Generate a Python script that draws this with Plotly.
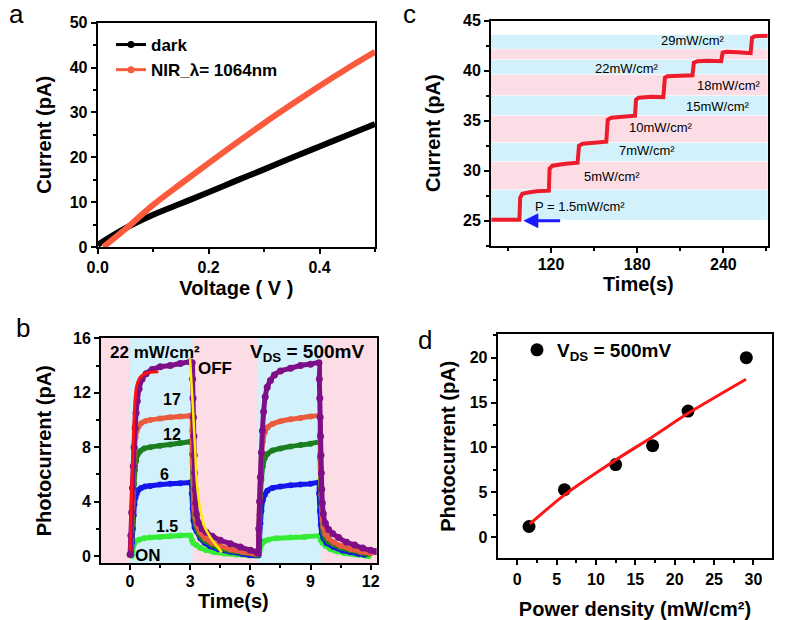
import plotly.graph_objects as go

W, H = 787, 620
FONT = "Arial, Liberation Sans, sans-serif"

# ---------------- Panel a : I-V ----------------
volt_dark = [0.0, 0.05, 0.1, 0.15, 0.2, 0.25, 0.3, 0.35, 0.4, 0.45, 0.5]
cur_dark = [0.5, 4.2, 7.2, 9.7, 12.2, 14.8, 17.3, 19.9, 22.4, 24.9, 27.4]
volt_nir = [0.01, 0.05, 0.1, 0.15, 0.2, 0.25, 0.3, 0.35, 0.4, 0.45, 0.5]
cur_nir = [0.0, 4.0, 9.4, 14.1, 18.7, 23.2, 27.6, 31.8, 35.9, 39.8, 43.5]

# ---------------- Panel b : on/off photocurrent ----------------
t_22 = [0.0, 0.04, 0.08, 0.12, 0.16, 0.2, 0.25, 0.3, 0.36, 0.45, 0.6, 0.8, 1.1, 1.5, 2.0, 2.5, 3.0, 3.1,
        3.12, 3.14, 3.16, 3.18, 3.2, 3.22, 3.24, 3.27, 3.32, 3.42, 3.6, 3.8, 4.1, 4.5, 5.0, 5.5, 6.0, 6.3,
        6.38, 6.42, 6.46, 6.5, 6.55, 6.6, 6.66, 6.74, 6.84, 7.0, 7.2, 7.5, 8.0, 8.5, 9.0, 9.42,
        9.44, 9.46, 9.48, 9.5, 9.52, 9.54, 9.56, 9.59, 9.64, 9.74, 9.9, 10.1, 10.4, 10.8, 11.2, 11.6, 12.0, 12.25]
i_22 = [0.1, 1.5, 3.2, 5.0, 6.6, 8.0, 9.4, 10.5, 11.4, 12.3, 13.0, 13.4, 13.7, 13.9, 14.0, 14.15, 14.25, 14.2,
        13.0, 11.6, 10.2, 8.8, 7.4, 6.1, 4.9, 3.9, 3.1, 2.45, 2.0, 1.75, 1.45, 1.15, 0.9, 0.65, 0.42, 0.3,
        0.2, 2.0, 4.0, 5.8, 7.6, 9.2, 10.6, 11.7, 12.4, 12.9, 13.3, 13.6, 13.8, 14.0, 14.1, 14.2,
        13.0, 11.6, 10.2, 8.8, 7.4, 6.1, 4.9, 3.9, 3.1, 2.4, 1.95, 1.65, 1.35, 1.0, 0.8, 0.58, 0.42, 0.32]

t_17 = [0.02, 0.06, 0.1, 0.14, 0.18, 0.22, 0.27, 0.33, 0.42, 0.55, 0.75, 1.0, 1.5, 2.0, 2.5, 3.0, 3.08,
        3.1, 3.13, 3.16, 3.2, 3.26, 3.35, 3.5, 3.75, 4.1, 4.5, 5.0, 5.6, 6.3,
        6.38, 6.42, 6.46, 6.5, 6.55, 6.62, 6.72, 6.85, 7.1, 7.5, 8.0, 8.5, 9.0, 9.45,
        9.48, 9.51, 9.54, 9.58, 9.64, 9.75, 9.9, 10.15, 10.5, 11.0, 11.5, 12.0]
i_17 = [0.1, 1.5, 3.2, 5.0, 6.7, 7.9, 8.7, 9.2, 9.5, 9.75, 9.9, 10.0, 10.1, 10.2, 10.25, 10.3, 10.3,
        9.2, 6.8, 4.8, 3.5, 2.8, 2.3, 1.75, 1.3, 0.95, 0.72, 0.48, 0.3, 0.15,
        0.2, 2.0, 4.0, 5.8, 7.2, 8.4, 9.1, 9.45, 9.7, 9.9, 10.05, 10.15, 10.25, 10.3,
        9.0, 6.5, 4.5, 3.0, 2.1, 1.6, 1.3, 1.0, 0.75, 0.52, 0.32, 0.2]

t_12 = [0.04, 0.08, 0.12, 0.16, 0.2, 0.24, 0.3, 0.38, 0.5, 0.7, 1.0, 1.5, 2.0, 2.5, 3.0, 3.08,
        3.1, 3.13, 3.16, 3.2, 3.27, 3.4, 3.6, 3.75, 4.1, 4.4, 5.0, 5.6, 6.3,
        6.38, 6.42, 6.46, 6.5, 6.55, 6.62, 6.72, 6.85, 7.1, 7.5, 8.0, 8.5, 9.0, 9.45,
        9.48, 9.51, 9.54, 9.58, 9.64, 9.75, 9.9, 10.15, 10.5, 11.0, 11.5, 11.85]
i_12 = [0.1, 1.2, 2.6, 4.0, 5.3, 6.3, 7.0, 7.45, 7.7, 7.9, 8.0, 8.1, 8.2, 8.3, 8.4, 8.4,
        7.5, 5.5, 4.0, 3.0, 2.3, 1.7, 1.3, 1.1, 0.8, 0.6, 0.4, 0.25, 0.1,
        0.1, 1.5, 3.0, 4.4, 5.6, 6.6, 7.2, 7.5, 7.75, 7.9, 8.05, 8.15, 8.25, 8.35,
        7.2, 5.2, 3.7, 2.6, 1.7, 1.3, 1.05, 0.85, 0.6, 0.42, 0.25, 0.14]

t_6 = [0.06, 0.1, 0.14, 0.18, 0.22, 0.27, 0.33, 0.42, 0.55, 0.75, 1.0, 1.5, 2.0, 2.5, 3.0, 3.05,
       3.08, 3.12, 3.16, 3.22, 3.32, 3.5, 3.73, 4.0, 4.4, 5.0, 5.6, 6.0,
       6.4, 6.45, 6.5, 6.55, 6.62, 6.72, 6.85, 7.1, 7.5, 8.0, 8.5, 9.0, 9.4,
       9.43, 9.47, 9.51, 9.56, 9.65, 9.8, 10.15, 10.6, 11.0, 11.4, 11.7]
i_6 = [0.1, 1.0, 2.0, 3.0, 3.8, 4.3, 4.6, 4.85, 5.0, 5.1, 5.15, 5.25, 5.3, 5.35, 5.4, 5.4,
       4.6, 3.5, 2.6, 2.1, 1.8, 1.3, 0.95, 0.72, 0.5, 0.3, 0.15, 0.05,
       0.05, 1.2, 2.4, 3.3, 4.1, 4.5, 4.8, 5.0, 5.1, 5.2, 5.25, 5.3, 5.4,
       4.6, 3.3, 2.3, 1.7, 1.3, 0.95, 0.65, 0.4, 0.28, 0.15, 0.08]

t_15 = [0.08, 0.12, 0.16, 0.22, 0.3, 0.45, 0.7, 1.0, 1.5, 2.0, 2.5, 3.0,
        3.08, 3.15, 3.3, 3.5, 3.8, 4.2, 4.7, 5.3, 5.9, 6.35,
        6.42, 6.46, 6.52, 6.6, 6.72, 6.9, 7.3, 8.0, 8.7, 9.45,
        9.52, 9.6, 9.75, 10.0, 10.3, 10.7, 11.2, 11.9]
i_15 = [0.0, 0.35, 0.7, 0.95, 1.1, 1.2, 1.3, 1.35, 1.4, 1.45, 1.5, 1.5,
        1.2, 0.95, 0.8, 0.6, 0.42, 0.28, 0.18, 0.1, 0.05, 0.02,
        0.05, 0.4, 0.75, 0.95, 1.1, 1.2, 1.3, 1.35, 1.4, 1.45,
        1.15, 0.95, 0.75, 0.5, 0.35, 0.2, 0.1, -0.02]

t_fit_on = [0.0, 0.06, 0.12, 0.18, 0.25, 0.33, 0.42, 0.55, 0.75, 1.0, 1.41]
i_fit_on = [0.4, 3.9, 6.8, 9.5, 11.5, 12.5, 12.9, 13.2, 13.4, 13.5, 13.55]
t_fit_off = [2.99, 3.1, 3.19, 3.26, 3.32, 3.42, 3.54, 3.7, 3.99, 4.2, 4.4, 4.57]
i_fit_off = [14.5, 11.8, 9.3, 7.4, 5.6, 4.2, 3.1, 2.2, 1.4, 0.95, 0.6, 0.25]

on_windows = [(0.0, 3.12), (6.35, 9.55)]
b_labels = ["17", "12", "6", "1.5"]
b_label_t = [2.11, 2.08, 1.71, 1.86]
b_label_i = [11.5, 8.9, 5.96, 2.16]

# ---------------- Panel c : staircase ----------------
t_step = [78.5, 98.0, 98.5, 100, 105, 110, 118.5,
          119.0, 121, 125, 130, 138.5,
          139.5, 142, 150, 158.5,
          159.5, 162, 170, 178.5,
          179.2, 181, 190, 198.2,
          199.3, 201, 210, 218.5,
          219.5, 222, 230, 238.5,
          239.5, 242, 250, 259,
          260, 262, 271]
i_step = [25.1, 25.1, 27.3, 27.7, 27.85, 27.95, 28.0,
          30.2, 30.5, 30.6, 30.7, 30.8,
          32.5, 32.7, 32.8, 32.9,
          35.1, 35.3, 35.4, 35.5,
          37.1, 37.3, 37.4, 37.35,
          39.3, 39.45, 39.5, 39.55,
          40.8, 40.95, 41.0, 40.95,
          41.8, 41.9, 41.85, 41.75,
          43.3, 43.45, 43.5]
band_lo = [25.1, 28.15, 30.95, 32.85, 35.55, 37.55, 39.65, 41.15, 42.2]
band_hi = [28.1, 30.9, 32.8, 35.5, 37.5, 39.6, 41.1, 42.15, 43.6]
c_labels = ["P = 1.5mW/cm²", "5mW/cm²", "7mW/cm²", "10mW/cm²",
            "15mW/cm²", "18mW/cm²", "22mW/cm²", "29mW/cm²"]
c_label_t = [140.2, 162.5, 186.8, 196.3, 236.2, 243.9, 172.9, 218.8]
c_label_i = [26.4, 29.4, 32.0, 34.3, 36.4, 38.5, 40.2, 43.0]
arrow_head = (100.7, 25.0)
arrow_tail = (127.4, 25.0)

# ---------------- Panel d : photocurrent vs power ----------------
power = [1.5, 6.0, 12.5, 17.2, 21.7, 29.1]
photo = [1.2, 5.3, 8.1, 10.2, 14.05, 20.0]
power_fit = [1.6, 6.05, 12.5, 17.2, 21.7, 29.07]
photo_fit = [1.48, 4.75, 8.6, 11.2, 13.8, 17.6]

PINK = "#fddde5"
CYAN = "#d3f1fa"

fig = go.Figure()

def dx(p0, p1):
    return [p0 / W, p1 / W]

def dy(ptop, pbot):
    return [1 - pbot / H, 1 - ptop / H]

# traces: panel a
fig.add_trace(go.Scatter(x=volt_dark, y=cur_dark, mode="lines", line=dict(color="black", width=6, shape="spline"),
                         xaxis="x", yaxis="y", showlegend=False))
fig.add_trace(go.Scatter(x=volt_nir, y=cur_nir, mode="lines", line=dict(color="#fb5a3c", width=6, shape="spline"),
                         xaxis="x", yaxis="y", showlegend=False))
fig.add_trace(go.Scatter(x=[None], y=[None], mode="lines+markers", name="dark",
                         line=dict(color="black", width=3), marker=dict(color="black", size=7),
                         xaxis="x", yaxis="y", legend="legend"))
fig.add_trace(go.Scatter(x=[None], y=[None], mode="lines+markers", name="NIR_λ= 1064nm",
                         line=dict(color="#fb5a3c", width=3), marker=dict(color="#fb5a3c", size=7),
                         xaxis="x", yaxis="y", legend="legend"))

# panel b
for tt, ii, col, ms in [(t_15, i_15, "#35ec35", 6), (t_6, i_6, "#1515ee", 6), (t_12, i_12, "#1b7f1f", 6),
                        (t_17, i_17, "#ea5a3d", 6), (t_22, i_22, "#7f0f88", 7)]:
    fig.add_trace(go.Scatter(x=tt, y=ii, mode="lines+markers", line=dict(color=col, width=5, shape="spline", smoothing=0.6),
                             marker=dict(color=col, size=ms), xaxis="x2", yaxis="y2", showlegend=False))
fig.add_trace(go.Scatter(x=t_fit_on, y=i_fit_on, mode="lines", line=dict(color="#ff1010", width=3, shape="spline"),
                         xaxis="x2", yaxis="y2", showlegend=False))
fig.add_trace(go.Scatter(x=t_fit_off, y=i_fit_off, mode="lines", line=dict(color="#ffee00", width=2.5, shape="spline"),
                         xaxis="x2", yaxis="y2", showlegend=False))

# panel c
fig.add_trace(go.Scatter(x=t_step, y=i_step, mode="lines", line=dict(color="#ec1c2c", width=4),
                         xaxis="x3", yaxis="y3", showlegend=False))

# panel d
fig.add_trace(go.Scatter(x=power, y=photo, mode="markers", marker=dict(color="black", size=13),
                         xaxis="x4", yaxis="y4", showlegend=False))
fig.add_trace(go.Scatter(x=power_fit, y=photo_fit, mode="lines", line=dict(color="#ff1515", width=3, shape="spline", smoothing=0.8),
                         xaxis="x4", yaxis="y4", showlegend=False))
fig.add_trace(go.Scatter(x=[None], y=[None], mode="markers", name="V<sub>DS</sub> = 500mV",
                         marker=dict(color="black", size=13), xaxis="x4", yaxis="y4", legend="legend2"))

tickfont = dict(family=FONT, size=16, color="black", weight="bold")
titlefont = dict(family=FONT, size=20, color="black", weight="bold")

def axis(domain, anchor, rng, dtick, minor, title, standoff, tick0=0, fmt=None, lblshift=0):
    d = dict(domain=domain, anchor=anchor, range=rng, dtick=dtick, tick0=tick0, automargin=False,
             showline=True, linecolor="black", linewidth=2, mirror=True,
             ticks="outside", ticklen=5, tickwidth=2, tickcolor="black",
             minor=dict(dtick=minor, ticks="outside", ticklen=3, tickwidth=1.5, tickcolor="black"),
             showgrid=False, zeroline=False, tickfont=tickfont, ticklabelstandoff=lblshift,
             title=dict(text=title, font=titlefont, standoff=standoff))
    if fmt:
        d["tickformat"] = fmt
    return d

fig.update_layout(
    template="none",
    width=W, height=H, margin=dict(l=0, r=0, t=0, b=0, autoexpand=False),
    paper_bgcolor="white", plot_bgcolor="white",
    font=dict(family=FONT, color="black", size=16),
    xaxis=axis(dx(97.7, 375), "y", [0, 0.5], 0.2, 0.1, "Voltage ( V )", 6, fmt=".1f"),
    yaxis=axis(dy(22.7, 247), "x", [0, 50], 10, 5, "Current (pA)", 13),
    xaxis2=axis(dx(101, 376.7), "y2", [-1.45, 12.3], 3, 1.5, "", 0, lblshift=-3),
    yaxis2=axis(dy(338.3, 563.3), "x2", [-0.54, 16], 4, 2, "Photocurrent (pA)", 16),
    xaxis3=axis(dx(491, 767.7), "y3", [78.2, 270.9], 60, 30, "", 0, lblshift=-2),
    yaxis3=axis(dy(20.7, 245.7), "x3", [22.5, 45], 5, 2.5, "Current (pA)", 17),
    xaxis4=axis(dx(497.7, 772.3), "y4", [-2.48, 32.4], 5, 2.5, "Power density (mW/cm²)", 20),
    yaxis4=axis(dy(334.3, 558.3), "x4", [-2.34, 22.6], 5, 2.5, "Photocurrent (pA)", 9),
    legend=dict(x=111 / W, y=1 - 27 / H, xanchor="left", yanchor="top", bgcolor="rgba(0,0,0,0)",
                font=dict(family=FONT, size=17, color="black", weight="bold"), tracegroupgap=0),
    legend2=dict(x=517 / W, y=1 - 331 / H, xanchor="left", yanchor="top", bgcolor="rgba(0,0,0,0)",
                 font=dict(family=FONT, size=19, color="black", weight="bold")),
)

shapes = []
# panel b background
shapes.append(dict(type="rect", xref="x2 domain", yref="y2 domain", x0=0, x1=1, y0=0, y1=1,
                   fillcolor=PINK, line=dict(width=0), layer="below"))
for a0, a1 in on_windows:
    shapes.append(dict(type="rect", xref="x2", yref="y2 domain", x0=a0, x1=a1, y0=0, y1=1,
                       fillcolor=CYAN, line=dict(width=0), layer="below"))
# panel c bands
for k, (lo, hi) in enumerate(zip(band_lo, band_hi)):
    shapes.append(dict(type="rect", xref="x3 domain", yref="y3", x0=0, x1=1, y0=lo, y1=hi,
                       fillcolor=CYAN if k % 2 == 0 else PINK, line=dict(width=0), layer="below"))
fig.update_layout(shapes=shapes)

ann = []
# panel letters
for txt, px, py in [("a", 16, 14), ("c", 409, 14), ("b", 23, 328), ("d", 425, 340)]:
    ann.append(dict(text=txt, x=px / W, y=1 - py / H, xref="paper", yref="paper", showarrow=False,
                    xanchor="center", yanchor="middle", font=dict(family=FONT, size=26, color="black")))
# x-axis titles of panels b and c sit tight against their tick labels
for txt, px, py in [("Time(s)", 233, 601), ("Time(s)", 638, 284)]:
    ann.append(dict(text=txt, x=px / W, y=1 - py / H, xref="paper", yref="paper", showarrow=False,
                    xanchor="center", yanchor="middle", font=titlefont))
# panel b labels
bfont = dict(family=FONT, size=16, color="black", weight="bold")
for txt, tx, iy in zip(b_labels, b_label_t, b_label_i):
    ann.append(dict(text=txt, x=tx, y=iy, xref="x2", yref="y2", showarrow=False, font=bfont))
ann.append(dict(text="22 mW/cm²", x=-1.1, y=14.95, xref="x2", yref="y2", showarrow=False,
                xanchor="left", font=dict(family=FONT, size=17, color="black", weight="bold")))
ann.append(dict(text="OFF", x=4.24, y=13.8, xref="x2", yref="y2", showarrow=False,
                font=dict(family=FONT, size=17, color="black", weight="bold")))
ann.append(dict(text="ON", x=0.88, y=0.07, xref="x2", yref="y2", showarrow=False,
                font=dict(family=FONT, size=17, color="black", weight="bold")))
ann.append(dict(text="V<sub>DS</sub> = 500mV", x=5.9, y=14.9, xref="x2", yref="y2", showarrow=False,
                xanchor="left", font=dict(family=FONT, size=19, color="black", weight="bold")))
# panel c labels
for txt, tx, iy in zip(c_labels, c_label_t, c_label_i):
    ann.append(dict(text=txt, x=tx, y=iy, xref="x3", yref="y3", showarrow=False,
                    font=dict(family=FONT, size=13, color="black")))
ann.append(dict(text="", x=arrow_head[0], y=arrow_head[1], ax=arrow_tail[0], ay=arrow_tail[1],
                xref="x3", yref="y3", axref="x3", ayref="y3", showarrow=True,
                arrowhead=2, arrowsize=1, arrowwidth=3, arrowcolor="#1a1aff"))
fig.update_layout(annotations=ann)

fig.write_html("out.html", config={"displayModeBar": False},
               post_script="document.body.style.margin='0px';")
